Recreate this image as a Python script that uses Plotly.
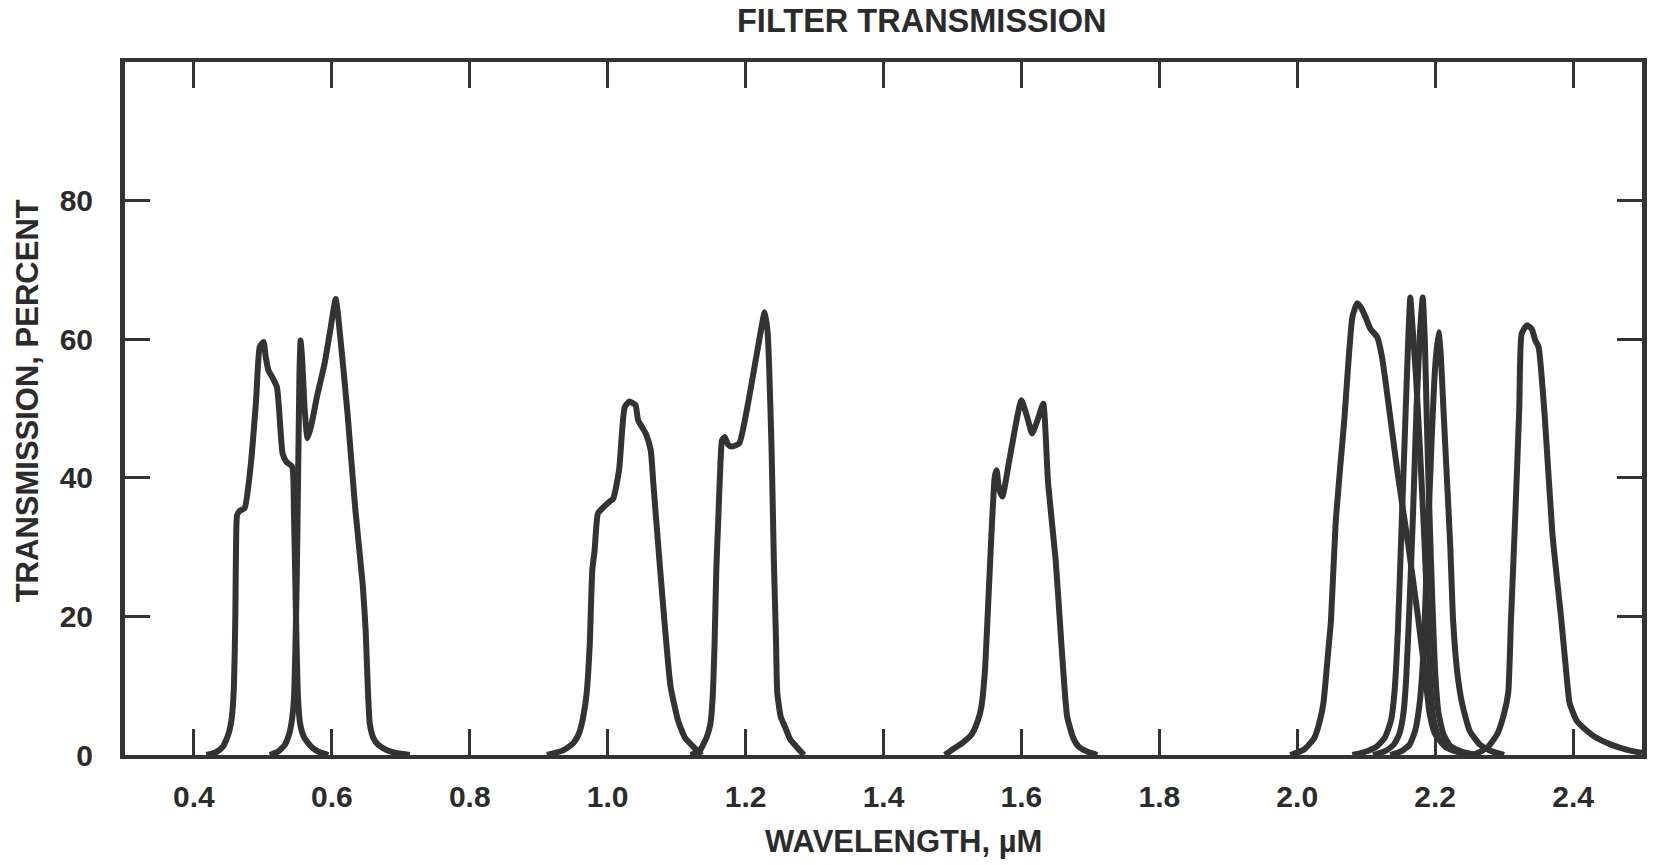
import plotly.graph_objects as go

# Wavelength (µm) / transmission (%) pairs for each filter band
band_050_wl = [0.418, 0.432, 0.442, 0.450, 0.455, 0.458, 0.460, 0.461, 0.4625, 0.466, 0.4734,
               0.4816, 0.490, 0.4954, 0.5009, 0.504, 0.508, 0.5131, 0.5203, 0.5286, 0.534,
               0.5424, 0.545, 0.547, 0.549, 0.551, 0.554, 0.560, 0.570, 0.580, 0.595]
band_050_tr = [0, 0.4, 1.2, 3.0, 5.5, 10, 20, 30, 34.6, 35.2, 35.6,
               41.1, 51, 58.9, 59.6, 57.5, 55.5, 54.6, 53.1, 43.5, 42.3,
               41.6, 35, 25, 15, 8, 4.5, 2.5, 1.2, 0.5, 0]

band_060_wl = [0.510, 0.522, 0.532, 0.538, 0.542, 0.545, 0.547, 0.549, 0.551, 0.553, 0.5546,
               0.557, 0.5605, 0.5647, 0.5700, 0.5784, 0.5895, 0.598, 0.6055, 0.6088, 0.6227,
               0.6337, 0.6448, 0.649, 0.652, 0.655, 0.660, 0.668, 0.680, 0.695, 0.713]
band_060_tr = [0, 0.5, 1.5, 3, 5, 8, 15, 25, 40, 55, 59.8,
               57, 50, 45.7, 47.5, 51.7, 56.5, 61.5, 65.8, 63.7, 49.3,
               35.8, 24.5, 18, 10, 4.5, 2.5, 1.4, 0.7, 0.25, 0]

band_104_wl = [0.912, 0.936, 0.950, 0.9584, 0.9645, 0.9695, 0.974, 0.9777, 0.981, 0.986,
               0.9944, 1.002, 1.008, 1.0165, 1.0247, 1.0314, 1.0403, 1.0442, 1.0552, 1.0624,
               1.0662, 1.0755, 1.0912, 1.102, 1.112, 1.124, 1.136]
band_104_tr = [0, 0.7, 1.7, 3.1, 5.5, 8.9, 16, 26.7, 29.5, 34.9,
               35.8, 36.5, 37.0, 41.1, 50.2, 51.0, 50.5, 48.3, 46.4, 44.0,
               39.2, 27.5, 9.9, 5.0, 2.5, 1.2, 0]

band_122_wl = [1.120, 1.1327, 1.1437, 1.149, 1.152, 1.155, 1.1575, 1.160, 1.1635, 1.1658,
               1.1697, 1.1745, 1.1797, 1.1907, 1.2018, 1.2156, 1.2278, 1.232, 1.2377, 1.241,
               1.244, 1.246, 1.251, 1.257, 1.265, 1.2737, 1.2847]
band_122_tr = [0, 0.5, 2.6, 4.5, 7.9, 16, 26.7, 33, 42, 45.4,
               45.9, 44.8, 44.5, 44.96, 49.8, 57.5, 63.9, 60.9, 44, 28,
               17, 8.9, 5.5, 4.1, 2.2, 1.2, 0]

band_160_wl = [1.489, 1.500, 1.515, 1.528, 1.537, 1.542, 1.547, 1.551, 1.5545, 1.5613,
               1.564, 1.5675, 1.5723, 1.5833, 1.600, 1.6083, 1.6155, 1.624, 1.6316, 1.6387,
               1.6497, 1.658, 1.663, 1.6664, 1.675, 1.683, 1.695, 1.710]
band_160_tr = [0, 0.8, 1.8, 3, 5, 7.0, 12, 20, 27.5, 40.1,
               41.1, 38.5, 37.3, 43.0, 51.2, 48.8, 46.4, 48.5, 50.7, 39.2,
               28.1, 16, 9, 5.5, 2.5, 1.2, 0.5, 0]

band_209_wl = [1.990, 2.010, 2.025, 2.033, 2.038, 2.045, 2.049, 2.056, 2.068, 2.080,
               2.087, 2.093, 2.099, 2.106, 2.116, 2.123, 2.145, 2.162, 2.175, 2.185,
               2.192, 2.200, 2.215, 2.240, 2.260]
band_209_tr = [0, 0.8, 2.5, 5, 7.5, 15, 19.5, 34, 48, 63.2,
               65.2, 64.5, 63.2, 61.5, 60.3, 57.4, 41.1, 29.6, 20, 12,
               6, 3, 1.2, 0.3, 0]

band_216_wl = [2.080, 2.100, 2.115, 2.127, 2.136, 2.141, 2.146, 2.151, 2.156, 2.161, 2.164,
               2.167, 2.172, 2.178, 2.184, 2.189, 2.193, 2.198, 2.205, 2.215, 2.230, 2.250]
band_216_tr = [0, 0.5, 1.2, 2.5, 5, 9, 18, 32, 46, 60, 66,
               62, 55, 44, 32, 20, 10, 5, 2.5, 1.2, 0.5, 0]

band_218_wl = [2.110, 2.128, 2.140, 2.148, 2.154, 2.158, 2.163, 2.168, 2.173, 2.178, 2.182,
               2.185, 2.188, 2.192, 2.196, 2.200, 2.205, 2.212, 2.222, 2.238, 2.260]
band_218_tr = [0, 0.6, 1.5, 3, 6, 11, 22, 35, 50, 61, 66,
               60, 48, 34, 22, 12, 6, 3, 1.3, 0.5, 0]

band_221_wl = [2.135, 2.152, 2.163, 2.171, 2.177, 2.182, 2.187, 2.192, 2.196, 2.200, 2.205,
               2.208, 2.212, 2.216, 2.222, 2.226, 2.232, 2.239, 2.250, 2.265, 2.280, 2.300]
band_221_tr = [0, 0.6, 1.5, 3.5, 7, 13, 25, 38, 48, 56, 61,
               58, 50, 42, 30, 19.5, 12, 7.5, 3.5, 1.5, 0.6, 0]

band_234_wl = [2.255, 2.275, 2.290, 2.300, 2.306, 2.310, 2.316, 2.322, 2.3255, 2.333,
               2.340, 2.345, 2.350, 2.359, 2.370, 2.383, 2.392, 2.395, 2.405, 2.420,
               2.432, 2.455, 2.480, 2.500]
band_234_tr = [0, 1, 3, 6, 9, 19.5, 34, 50, 60.8, 62,
               61.5, 59.9, 58.9, 48.8, 32, 19.5, 10, 7.5, 5, 3.5,
               2.6, 1.5, 0.7, 0.3]

bands = [
    (band_050_wl, band_050_tr), (band_060_wl, band_060_tr),
    (band_104_wl, band_104_tr), (band_122_wl, band_122_tr),
    (band_160_wl, band_160_tr), (band_209_wl, band_209_tr),
    (band_216_wl, band_216_tr), (band_218_wl, band_218_tr),
    (band_221_wl, band_221_tr), (band_234_wl, band_234_tr),
]

x_tick_vals = [0.4, 0.6, 0.8, 1.0, 1.2, 1.4, 1.6, 1.8, 2.0, 2.2, 2.4]
x_tick_text = ["0.4", "0.6", "0.8", "1.0", "1.2", "1.4", "1.6", "1.8", "2.0", "2.2", "2.4"]
y_tick_vals = [0, 20, 40, 60, 80]
y_tick_text = ["0", "20", "40", "60", "80"]

INK = "#333333"
TEXT_INK = "#2b2b2b"
FONT = "Liberation Sans"

fig = go.Figure()
for wl, tr in bands:
    fig.add_trace(go.Scatter(
        x=wl, y=tr, mode="lines",
        line=dict(color=INK, width=6, shape="spline", smoothing=0.5),
        showlegend=False, hoverinfo="skip",
    ))

fig.update_layout(
    width=1654, height=865,
    margin=dict(l=125, r=7, t=62, b=110),
    paper_bgcolor="white", plot_bgcolor="white",
    font=dict(family=FONT, color=TEXT_INK, size=30, weight="bold"),
)

fig.update_xaxes(
    range=[0.3, 2.5], tickvals=x_tick_vals, ticktext=x_tick_text,
    ticks="inside", ticklen=26, tickwidth=3, tickcolor=INK,
    showline=True, linecolor=INK, linewidth=3.5, mirror="ticks",
    showgrid=False, zeroline=False,
    tickfont=dict(family=FONT, size=30, color=TEXT_INK, weight="bold"),
    ticklabelstandoff=12,
)
fig.update_yaxes(
    range=[0, 100], tickvals=y_tick_vals, ticktext=y_tick_text,
    ticks="inside", ticklen=25, tickwidth=3, tickcolor=INK,
    showline=True, linecolor=INK, linewidth=5, mirror="ticks",
    showgrid=False, zeroline=False,
    tickfont=dict(family=FONT, size=30, color=TEXT_INK, weight="bold"),
    ticklabelstandoff=21,
)

label_font = dict(family=FONT, size=31, color=TEXT_INK, weight="bold")
fig.add_annotation(text="FILTER TRANSMISSION", xref="paper", yref="paper",
                   x=(925 - 125) / 1522, y=(755 - 20.5) / 693,
                   xanchor="center", yanchor="middle", showarrow=False,
                   font=dict(family=FONT, size=32.5, color=TEXT_INK, weight="bold"))
fig.add_annotation(text="WAVELENGTH, µM", xref="paper", yref="paper",
                   x=(906 - 125) / 1522, y=(755 - 841.5) / 693,
                   xanchor="center", yanchor="middle", showarrow=False, font=label_font)
fig.add_annotation(text="TRANSMISSION, PERCENT", xref="paper", yref="paper",
                   x=(27 - 125) / 1522, y=(755 - 401) / 693, textangle=-90,
                   xanchor="center", yanchor="middle", showarrow=False, font=label_font)

fig.write_html("out.html")
